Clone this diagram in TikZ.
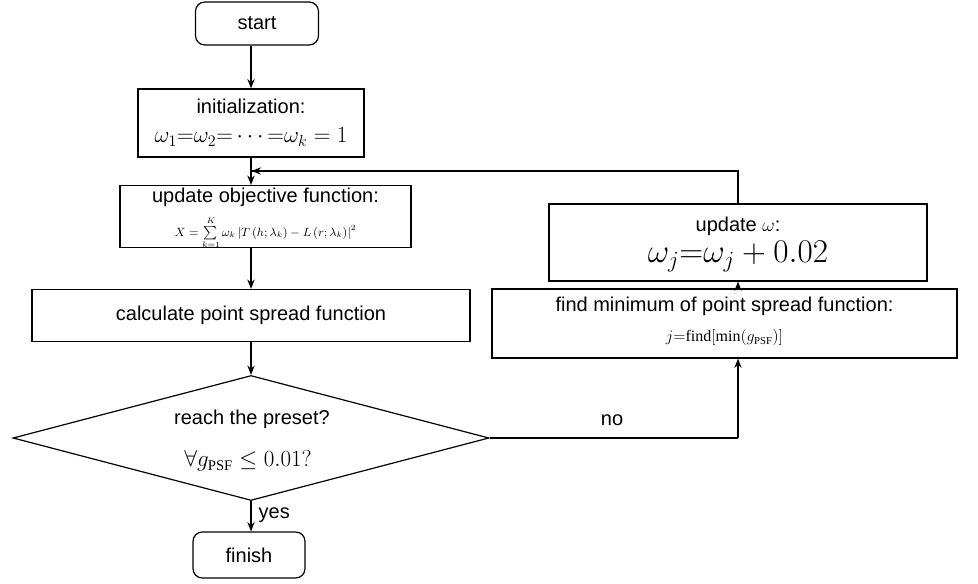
\documentclass[tikz,border=0pt]{standalone}
\usepackage{fontspec}
\setmainfont{Liberation Sans}
\newfontfamily\serifrm{Liberation Serif}
\usetikzlibrary{arrows.meta,shapes.geometric}
\begin{document}
\begin{tikzpicture}[x=0.75pt,y=-0.75pt,
  box/.style={draw,line width=0.9pt,inner sep=0pt,align=center},
  rbox/.style={box,rounded corners=7pt},
  conn/.style={line width=0.9pt,-{Stealth[length=7pt,width=5.5pt]}},
  every node/.style={font=\fontsize{15}{18}\selectfont}]
\useasboundingbox (0,0) rectangle (978,584);
\node[rbox,minimum width=92.25pt,minimum height=32.25pt] (start) at (257,23.5) {start};
\node[box,minimum width=169.5pt,minimum height=51pt] (init) at (251,123) {};
\node (initt) at (251,106) {initialization:};
\node[font=\fontsize{17}{20}\selectfont] (initf) at (251,137) {$\omega_1{=}\omega_2{=}\cdots{=}\omega_k=1$};
\node[box,minimum width=218.25pt,minimum height=46.5pt] (obj) at (265.5,216.5) {};
\node[inner sep=0pt] (objt) at (265.5,197) {update objective function:};
\node[inner sep=0pt,font=\fontsize{9}{10}\selectfont] (objf) at (265.5,233) {$X=\sum\limits_{k=1}^{K}\omega_k\left|T\left(h;\lambda_k\right)-L\left(r;\lambda_k\right)\right|^2$};
\node[box,minimum width=328.5pt,minimum height=39pt] (calc) at (251,315.5) {calculate point spread function};
\node[draw,line width=0.9pt,diamond,inner sep=0pt,minimum width=357pt,minimum height=93.75pt] (dec) at (251,438) {};
\node (dect) at (252,419) {reach the preset?};
\node[font=\fontsize{17}{20}\selectfont] (decf) at (248,461) {$\forall g_{\mbox{\serifrm\fontsize{11}{12}\selectfont PSF}}\leq 0.01?$};
\node[rbox,minimum width=84pt,minimum height=34.5pt] (finish) at (249,555) {finish};
\node[box,minimum width=348.75pt,minimum height=51.75pt] (find) at (724.5,323.5) {};
\node (findt) at (724.5,306) {find minimum of point spread function:};
\node[font=\fontsize{12}{14}\selectfont] (findf) at (724.5,338) {$j{=}\mbox{\serifrm find}[\mbox{\serifrm min}(g_{\mbox{\serifrm\fontsize{8}{9}\selectfont PSF}})]$};
\node[box,minimum width=283.5pt,minimum height=57.75pt] (upd) at (738,242.5) {};
\node (updt) at (738,226) {update $\omega$:};
\node[font=\fontsize{23}{26}\selectfont] (updf) at (738,257) {$\omega_j{=}\omega_j+0.02$};
\coordinate (loopc) at (738,171);
\coordinate (loopin) at (251,171);
\coordinate (noc) at (738,438);
\draw[conn] (init.north |- start.south) -- (init.north);
\draw[conn] (init.south) -- (init.south |- obj.north);
\draw[line width=0.9pt] (upd.north) -- (loopc) -- (loopin);
\draw[conn] (loopc) -- ([xshift=0.5pt]loopin);
\draw[conn] (obj.south -| init.south) -- (init.south |- calc.north);
\draw[conn] (calc.south) -- (dec.north);
\draw[conn] (dec.south) -- (dec.south |- finish.north) node[pos=0.45,right=2pt] (yes) {yes};
\draw[line width=0.9pt] (dec.east) -- (noc);
\draw[conn] (noc) -- (noc |- find.south);
\node (no) at (612,420) {no};
\draw[conn] (find.north -| upd.south) -- (upd.south);
\end{tikzpicture}
\end{document}
